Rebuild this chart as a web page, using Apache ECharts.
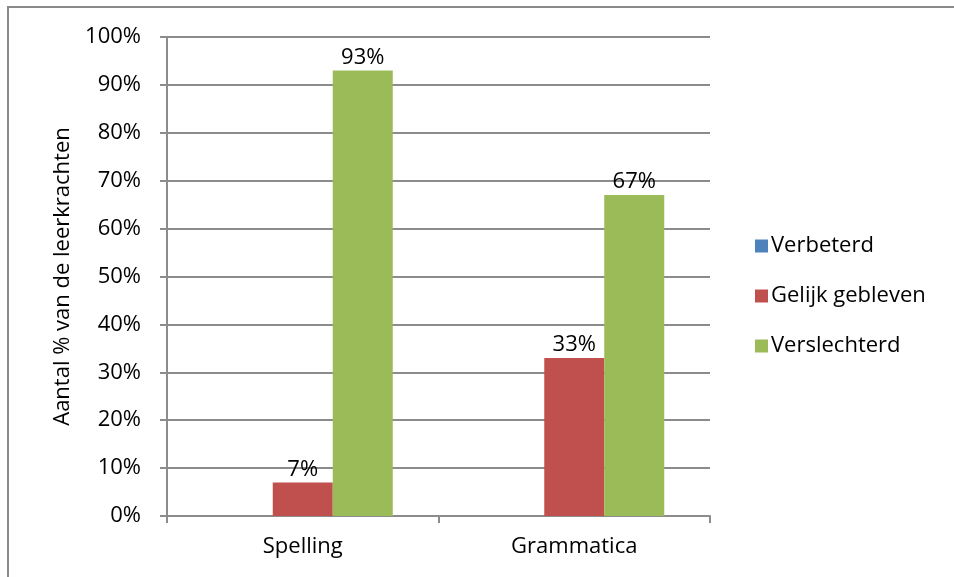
<!DOCTYPE html>
<html>
<head>
<meta charset="utf-8">
<script src="https://cdn.jsdelivr.net/npm/echarts@6/dist/echarts.min.js"></script>
<style>
html,body{margin:0;padding:0;background:#fff;}
#c{width:954px;height:577px;}
</style>
</head>
<body>
<div id="c"></div>
<script>
const categories = ['Spelling', 'Grammatica'];
const verbeterd = [0, 0];
const gelijkGebleven = [7, 33];
const verslechterd = [93, 67];
const seriesNames = ['Verbeterd', 'Gelijk gebleven', 'Verslechterd'];
const yTicks = [0, 10, 20, 30, 40, 50, 60, 70, 80, 90, 100];

const FONT = '"Open Sans", Lato, sans-serif';
const FS = 22;
const gridColor = '#8c8c8c';
const chart = echarts.init(document.getElementById('c'));

function mkSeries(name, data, color) {
  return {
    name: name,
    type: 'bar',
    data: data,
    barWidth: 60,
    barGap: '0%',
    itemStyle: { color: color },
    label: {
      show: true,
      position: 'top',
      distance: 2,
      color: '#000',
      fontFamily: FONT,
      fontSize: FS,
      formatter: p => (p.value > 0 ? p.value + '%' : '')
    }
  };
}

chart.setOption({
  animation: false,
  graphic: [{
    type: 'rect',
    shape: { x: 8, y: 7, width: 1000, height: 1000 },
    style: { fill: 'none', stroke: '#8a8a8a', lineWidth: 2 },
    z: -1
  }],
  grid: { left: 167, right: 244, top: 37, bottom: 61 },
  legend: {
    orient: 'vertical',
    left: 750,
    top: 230,
    itemWidth: 13,
    itemHeight: 13,
    itemGap: 28,
    icon: 'rect',
    textStyle: { fontFamily: FONT, fontSize: FS, color: '#000', padding: [0, 0, 0, -2] },
    data: seriesNames
  },
  xAxis: {
    type: 'category',
    data: categories,
    axisLine: { lineStyle: { color: gridColor, width: 2 } },
    axisTick: { show: true, length: 7, lineStyle: { color: gridColor, width: 2 } },
    axisLabel: { color: '#000', fontFamily: FONT, fontSize: FS, margin: 20 }
  },
  yAxis: {
    type: 'value',
    min: 0,
    max: 100,
    interval: 10,
    name: 'Aantal % van de leerkrachten',
    nameLocation: 'middle',
    nameGap: 93,
    nameRotate: 90,
    nameTextStyle: { color: '#000', fontFamily: FONT, fontSize: FS },
    axisLine: { show: true, lineStyle: { color: gridColor, width: 2 } },
    axisTick: { show: true, length: 7, lineStyle: { color: gridColor, width: 2 } },
    splitLine: { lineStyle: { color: gridColor, width: 2 } },
    axisLabel: {
      color: '#000', fontFamily: FONT, fontSize: FS, margin: 26,
      formatter: v => (yTicks.indexOf(v) >= 0 ? v + '%' : '')
    }
  },
  series: [
    mkSeries(seriesNames[0], verbeterd, '#4F81BD'),
    mkSeries(seriesNames[1], gelijkGebleven, '#C0504D'),
    mkSeries(seriesNames[2], verslechterd, '#9BBB59')
  ]
});
</script>
</body>
</html>
